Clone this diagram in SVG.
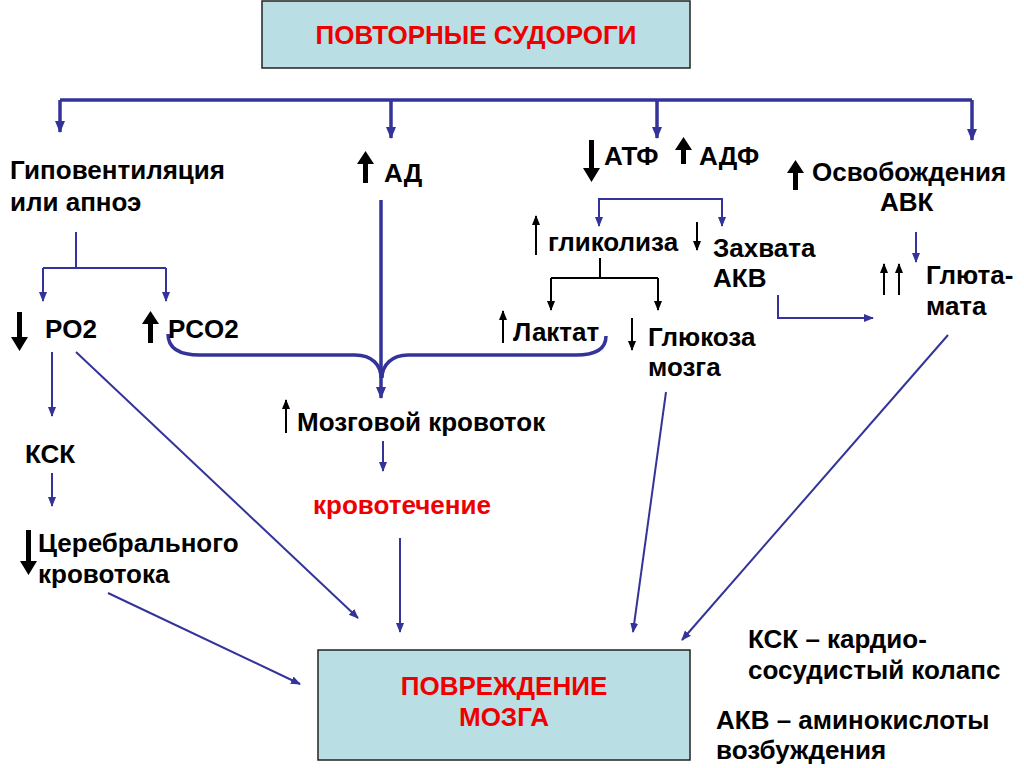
<svg xmlns="http://www.w3.org/2000/svg" width="1024" height="768" viewBox="0 0 1024 768">
<style>
.t{font-family:"Liberation Sans",Arial,sans-serif;font-weight:bold;font-size:26px;fill:#000}
.r{fill:#ee0000}
.box{fill:#b9dfe4;stroke:#222;stroke-width:1.5}
.b3{fill:none;stroke:#333399;stroke-width:3.5}
.b2{fill:none;stroke:#333399;stroke-width:2}
.k2{fill:none;stroke:#000;stroke-width:2}
.ka{fill:#000}
</style>
<defs>
<marker id="ab" markerUnits="userSpaceOnUse" viewBox="0 0 12 12" refX="11" refY="6" markerWidth="12" markerHeight="12" orient="auto"><path d="M0,1 L12,6 L0,11 Z" fill="#333399"/></marker>
<marker id="ab2" markerUnits="userSpaceOnUse" viewBox="0 0 10 10" refX="9" refY="5" markerWidth="10" markerHeight="10" orient="auto"><path d="M0,1 L10,5 L0,9 Z" fill="#333399"/></marker>
<marker id="ak" markerUnits="userSpaceOnUse" viewBox="0 0 10 10" refX="9" refY="5" markerWidth="10" markerHeight="10" orient="auto"><path d="M0,1 L10,5 L0,9 Z" fill="#000"/></marker>
</defs>

<g id="connectors">
<path class="b3" d="M60,100 L972,100"/>
<path class="b3" d="M60,100 L60,132" marker-end="url(#ab)"/>
<path class="b3" d="M391,100 L391,138" marker-end="url(#ab)"/>
<path class="b3" d="M657,100 L657,138" marker-end="url(#ab)"/>
<path class="b3" d="M972,100 L972,140" marker-end="url(#ab)"/>
<path class="b2" d="M76,232 L76,268 M43,268 L166,268"/>
<path class="b2" d="M43,268 L43,301" marker-end="url(#ab2)"/>
<path class="b2" d="M166,268 L166,301" marker-end="url(#ab2)"/>
<path class="b3" d="M168,334 C168,348 178,355 200,355 L355,355 C372,355 381,365 381,378"/>
<path class="b3" d="M606,336 C606,349 596,355 576,355 L408,355 C392,355 382,365 382,378"/>
<path class="b3" d="M381,200 L381,398" marker-end="url(#ab)"/>
<path class="b2" d="M599,225 L599,199 L722,199 L722,226" marker-end="url(#ab2)"/>
<path class="b2" d="M599,206 L599,226" marker-end="url(#ab2)"/>
<path class="k2" d="M600,258 L600,278 M551,278 L658,278"/>
<path class="k2" d="M551,278 L551,310" marker-end="url(#ak)"/>
<path class="k2" d="M658,278 L658,310" marker-end="url(#ak)"/>
<path class="b2" d="M916,232 L916,262" marker-end="url(#ab2)"/>
<path class="b2" d="M778,295 L778,318 L873,318" marker-end="url(#ab2)"/>
<path class="b2" d="M948,335 L682,640" marker-end="url(#ab2)"/>
<path class="b2" d="M666,392 L633,632" marker-end="url(#ab2)"/>
<path class="b2" d="M383,441 L383,471" marker-end="url(#ab2)"/>
<path class="b2" d="M400,538 L400,632" marker-end="url(#ab2)"/>
<path class="b2" d="M52,352 L52,416" marker-end="url(#ab2)"/>
<path class="b2" d="M52,473 L52,506" marker-end="url(#ab2)"/>
<path class="b2" d="M76,352 L358,618" marker-end="url(#ab2)"/>
<path class="b2" d="M108,593 L300,684" marker-end="url(#ab2)"/>
</g>

<g id="n-top"><rect class="box" x="262" y="1" width="428" height="67"/><text class="t r" x="476" y="44" text-anchor="middle">ПОВТОРНЫЕ СУДОРОГИ</text></g>
<g id="n-bottom"><rect class="box" x="318" y="650" width="372" height="110"/><text class="t r" x="504" y="695" text-anchor="middle">ПОВРЕЖДЕНИЕ</text><text class="t r" x="504" y="726" text-anchor="middle">МОЗГА</text></g>

<g id="n-hypo"><text class="t" x="10" y="179">Гиповентиляция</text><text class="t" x="10" y="211">или апноэ</text></g>
<g id="n-po2"><path class="ka" d="M17,312 h5 v25 h6 l-8.5,14 l-8.5,-14 h6 z"/><text class="t" x="45" y="338">PO2</text></g>
<g id="n-pco2"><path class="ka" d="M148,343 h5 v-19 h6 l-8.5,-13 l-8.5,13 h6 z"/><text class="t" x="168" y="338">PCO2</text></g>
<g id="n-ad"><path class="ka" d="M363,183 h5 v-19 h6 l-8.5,-13 l-8.5,13 h6 z"/><text class="t" x="384" y="182">АД</text></g>
<g id="n-atf"><path class="ka" d="M589,140 h5 v28 h6 l-8.5,14 l-8.5,-14 h6 z"/><text class="t" x="604" y="165">АТФ</text>
<path class="ka" d="M681,164 h5 v-14 h6 l-8.5,-13 l-8.5,13 h6 z"/><text class="t" x="699" y="165">АДФ</text></g>
<g id="n-release"><path class="ka" d="M793,190 h5 v-17 h6 l-8.5,-13 l-8.5,13 h6 z"/><text class="t" x="812" y="181">Освобождения</text><text class="t" x="880" y="211">АВК</text></g>
<g id="n-glyc"><path class="k2" d="M536,255 L536,216" marker-end="url(#ak)"/><text class="t" x="548" y="251">гликолиза</text></g>
<g id="n-uptake"><path class="k2" d="M697,222 L697,250" marker-end="url(#ak)"/><text class="t" x="713" y="257">Захвата</text><text class="t" x="713" y="287">АКВ</text></g>
<g id="n-lact"><path class="k2" d="M503,343 L503,311" marker-end="url(#ak)"/><text class="t" x="513" y="341">Лактат</text></g>
<g id="n-gluc"><path class="k2" d="M632,318 L632,350" marker-end="url(#ak)"/><text class="t" x="648" y="346">Глюкоза</text><text class="t" x="648" y="376">мозга</text></g>
<g id="n-glut"><path class="k2" d="M884,295 L884,264" marker-end="url(#ak)"/><path class="k2" d="M899,295 L899,264" marker-end="url(#ak)"/><text class="t" x="926" y="284">Глюта-</text><text class="t" x="926" y="315">мата</text></g>
<g id="n-flow"><path class="k2" d="M286,433 L286,400" marker-end="url(#ak)"/><text class="t" x="297" y="431">Мозговой кровоток</text></g>
<g id="n-bleed"><text class="t r" x="313" y="514">кровотечение</text></g>
<g id="n-ksk"><text class="t" x="25" y="463">КСК</text></g>
<g id="n-cereb"><path class="ka" d="M26,530 h5 v31 h6 l-8.5,14 l-8.5,-14 h6 z"/><text class="t" x="38" y="552">Церебрального</text><text class="t" x="38" y="583">кровотока</text></g>
<g id="legend"><text class="t" x="748" y="648">КСК – кардио-</text><text class="t" x="748" y="679">сосудистый колапс</text><text class="t" x="716" y="729">АКВ – аминокислоты</text><text class="t" x="716" y="759">возбуждения</text></g>
</svg>
